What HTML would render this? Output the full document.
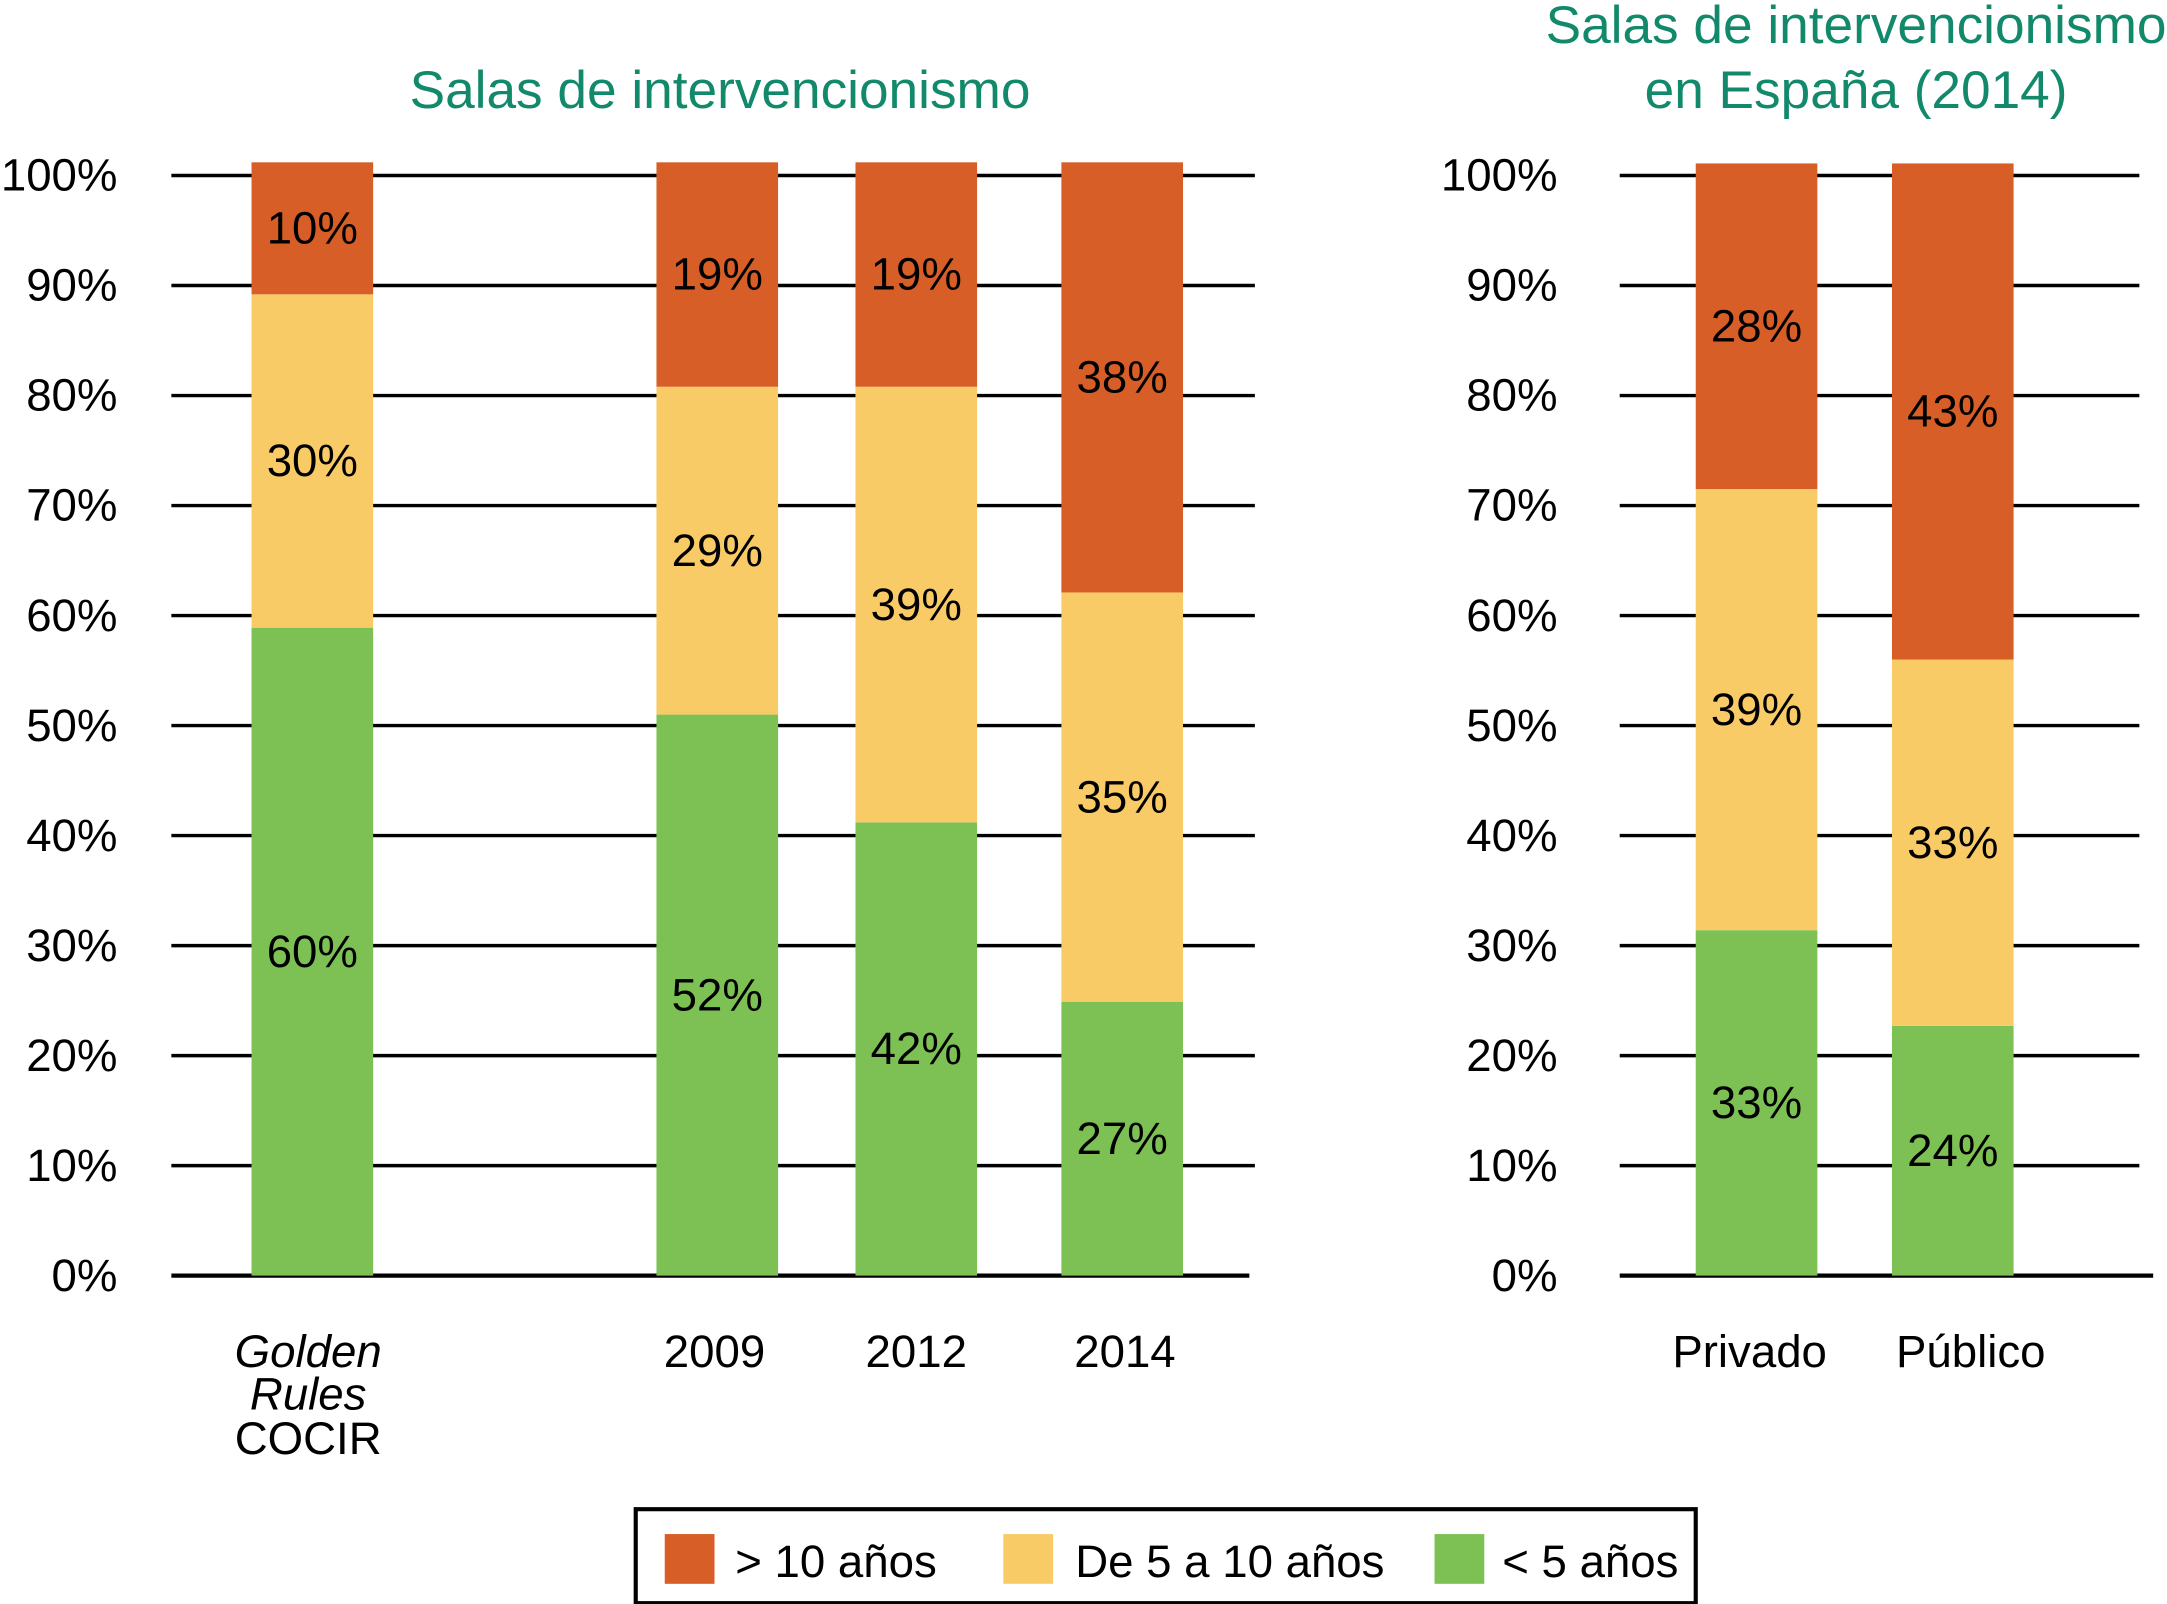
<!DOCTYPE html>
<html><head><meta charset="utf-8"><style>
html,body{margin:0;padding:0;background:#fff;}
svg{display:block;font-family:"Liberation Sans",sans-serif;}
</style></head><body>
<svg id="chart" width="2167" height="1604" viewBox="0 0 1568 1160.6" preserveAspectRatio="none" xmlns="http://www.w3.org/2000/svg">
<text x="521" y="78" text-anchor="middle" font-size="38.5" fill="#13896b">Salas de intervencionismo</text>
<text x="1343" y="31" text-anchor="middle" font-size="38.5" fill="#13896b">Salas de intervencionismo</text>
<text x="1343" y="78" text-anchor="middle" font-size="38.5" fill="#13896b">en España (2014)</text>
<g id="grid"></g>
<g id="bars"></g>
<g id="labels"></g>
<g font-size="33" text-anchor="middle" fill="#000">
<text x="223" y="989" font-style="italic">Golden</text>
<text x="223" y="1020" font-style="italic">Rules</text>
<text x="223" y="1052">COCIR</text>
<text x="517" y="989">2009</text>
<text x="663" y="989">2012</text>
<text x="814" y="989">2014</text>
<text x="1266" y="989">Privado</text>
<text x="1426" y="989">Público</text>
</g>
<g>
<rect x="460" y="1092" width="767" height="68" fill="#fff" stroke="#000" stroke-width="3"/>
<rect x="481" y="1110" width="36" height="36" fill="#d75f27"/>
<text x="532" y="1141" font-size="33">&gt; 10 años</text>
<rect x="726" y="1110" width="36" height="36" fill="#f9cb67"/>
<text x="778" y="1141" font-size="33">De 5 a 10 años</text>
<rect x="1038" y="1110" width="36" height="36" fill="#7dc155"/>
<text x="1087" y="1141" font-size="33">&lt; 5 años</text>
</g>
</svg>
<script>
const categories = ["Golden Rules COCIR","2009","2012","2014","Privado","Público"];
const under5 = [58.9, 51.0, 41.2, 24.9, 31.4, 22.7];
const from5to10 = [30.3, 29.8, 39.6, 37.2, 40.1, 33.3];
const over10 = [12.0, 20.4, 20.4, 39.1, 29.6, 45.1];
const under5Labels = ["60%","52%","42%","27%","33%","24%"];
const from5to10Labels = ["30%","29%","39%","35%","39%","33%"];
const over10Labels = ["10%","19%","19%","38%","28%","43%"];
const yTicks = [0,10,20,30,40,50,60,70,80,90,100];

const NS = "http://www.w3.org/2000/svg";
const y0 = 923, yPer = 7.96;
function y(v){ return y0 - v*yPer; }
const barX = [182, 475, 619, 768, 1227, 1369];
const barW = 88;
function mk(tag, attrs, parent){
  const e = document.createElementNS(NS, tag);
  for (const k in attrs) e.setAttribute(k, attrs[k]);
  parent.appendChild(e); return e;
}
const grid = document.getElementById("grid");
const panels = [{x1:124,x2:908,x2b:904,lx:85,name:"left"},{x1:1172,x2:1548,x2b:1558,lx:1127,name:"right"}];
panels.forEach(p=>{
  yTicks.forEach(t=>{
    const l = mk("line",{x1:p.x1,x2:t===0?p.x2b:p.x2,y1:y(t),y2:y(t),stroke:"#000","stroke-width":t===0?3:2.5},grid);
    
    
    const tx = mk("text",{x:p.lx,y:y(t)+11,"text-anchor":"end","font-size":33,fill:"#000"},grid);
    tx.textContent = t+"%";
    
    
  });
});
const bars = document.getElementById("bars"), labels = document.getElementById("labels");
const series = [
  {vals:under5, labs:under5Labels, color:"#7dc155", key:"under-5"},
  {vals:from5to10, labs:from5to10Labels, color:"#f9cb67", key:"5-to-10"},
  {vals:over10, labs:over10Labels, color:"#d75f27", key:"over-10"}
];
categories.forEach((c,i)=>{
  let base = 0;
  series.forEach(s=>{
    const v = s.vals[i];
    const r = mk("rect",{x:barX[i],y:y(base+v),width:barW,height:v*yPer,fill:s.color},bars);
    
    
    const t = mk("text",{x:barX[i]+barW/2,y:y(base+v/2)+11,"text-anchor":"middle","font-size":33,fill:"#000"},labels);
    t.textContent = s.labs[i];
    
    
    base += v;
  });
});
</script>
</body></html>
